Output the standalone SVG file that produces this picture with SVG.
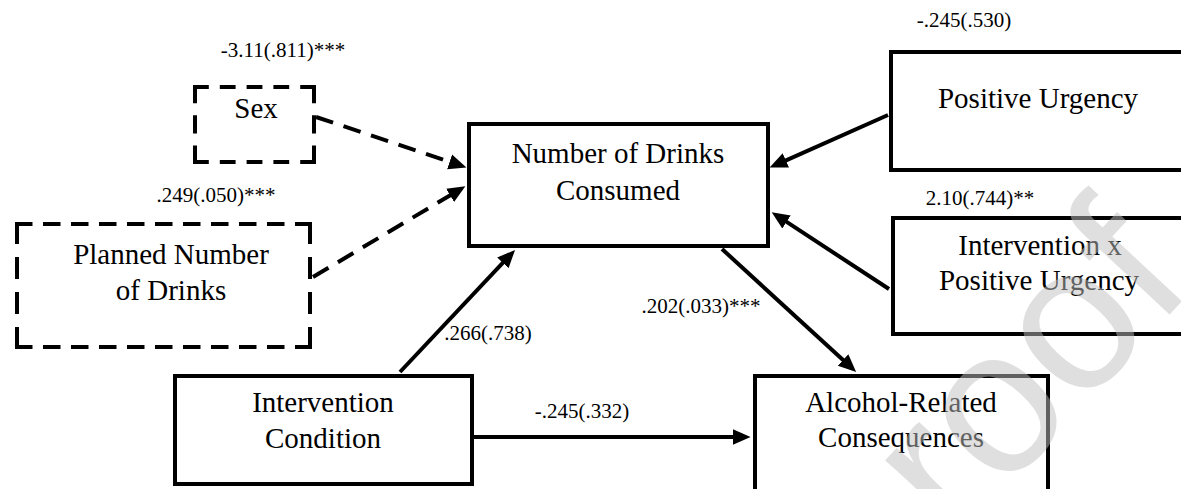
<svg xmlns="http://www.w3.org/2000/svg" width="1181" height="489" viewBox="0 0 1181 489">
<style>
  .box { fill: none; stroke: #000; stroke-width: 4; }
  .dside { fill: none; stroke: #000; stroke-width: 4; }
  .sexh { stroke-dasharray: 15.8 11; }
  .sexv { stroke-dasharray: 18.3 12; }
  .plh { stroke-dasharray: 17.5 10.5; }
  .plv { stroke-dasharray: 22 13; }
  .node { font-family: "Liberation Serif", "Times New Roman", "DejaVu Serif", serif; font-size: 29px; fill: #000; text-anchor: middle; }
  .lbl { font-family: "Liberation Serif", "Times New Roman", "DejaVu Serif", serif; font-size: 21px; fill: #000; text-anchor: middle; }
  .edge { fill: none; stroke: #000; stroke-width: 4; }
  .dedge { fill: none; stroke: #000; stroke-width: 4; stroke-dasharray: 18 11; }
  .wm { font-family: "Liberation Sans", Arial, sans-serif; font-size: 205px; fill: #c0c0c0; fill-opacity: 0.5; }
</style>
<defs>
  <marker id="arrow" markerUnits="userSpaceOnUse" markerWidth="20" markerHeight="18" refX="2" refY="0" viewBox="0 -8 18 16" orient="auto">
    <path d="M0,-7 L16,0 L0,7 z" fill="#000"/>
  </marker>
</defs>
<rect width="1181" height="489" fill="#fff"/>

<g id="connectors">
  <line class="dedge" x1="316" y1="117" x2="451.7" y2="162.5" marker-end="url(#arrow)"/>
  <line class="dedge" x1="313" y1="277" x2="452" y2="194.2" marker-end="url(#arrow)"/>
  <line class="edge" x1="400" y1="372" x2="504.4" y2="261.2" marker-end="url(#arrow)"/>
  <line class="edge" x1="722" y1="249" x2="844.7" y2="361.5" marker-end="url(#arrow)"/>
  <line class="edge" x1="888" y1="115" x2="783.8" y2="161.3" marker-end="url(#arrow)"/>
  <line class="edge" x1="889" y1="289" x2="784.7" y2="220.7" marker-end="url(#arrow)"/>
  <line class="edge" x1="474" y1="437" x2="735" y2="437" marker-end="url(#arrow)"/>
</g>

<g id="labels">
  <text class="lbl" x="283" y="57">-3.11(.811)***</text>
  <text class="lbl" x="216" y="202">.249(.050)***</text>
  <text class="lbl" x="488" y="340">.266(.738)</text>
  <text class="lbl" x="701" y="313">.202(.033)***</text>
  <text class="lbl" x="582" y="418">-.245(.332)</text>
  <text class="lbl" x="964" y="27">-.245(.530)</text>
  <text class="lbl" x="980" y="205">2.10(.744)**</text>
</g>

<g id="sex">
  <path class="dside sexh" d="M193,87 H316 M193,162 H316"/>
  <path class="dside sexv" d="M195,85 V164 M314,85 V164"/>
  <text class="node" x="256" y="118">Sex</text>
</g>
<g id="planned">
  <path class="dside plh" d="M15,224 H312 M15,347 H312"/>
  <path class="dside plv" d="M17,222 V349 M310,222 V349"/>
  <text class="node" x="171" y="264">Planned Number</text>
  <text class="node" x="171" y="300">of Drinks</text>
</g>
<g id="intervention">
  <rect class="box" x="175" y="376" width="297" height="108"/>
  <text class="node" x="323" y="412">Intervention</text>
  <text class="node" x="323" y="448">Condition</text>
</g>
<g id="drinks">
  <rect class="box" x="469" y="124" width="299" height="122"/>
  <text class="node" x="618" y="163">Number of Drinks</text>
  <text class="node" x="618" y="200">Consumed</text>
</g>
<g id="consequences">
  <rect class="box" x="755" y="376" width="293" height="130"/>
  <text class="node" x="901" y="412">Alcohol-Related</text>
  <text class="node" x="901" y="447">Consequences</text>
</g>
<g id="urgency">
  <rect class="box" x="891" y="52" width="300" height="118"/>
  <text class="node" x="1038" y="108">Positive Urgency</text>
</g>
<g id="interaction">
  <rect class="box" x="893" y="218" width="300" height="116"/>
  <text class="node" x="1040" y="255">Intervention x</text>
  <text class="node" x="1039" y="290">Positive Urgency</text>
</g>

<g id="watermark">
  <text class="wm" x="1196" y="286" text-anchor="end" transform="rotate(-47 1196 286)">Journal Pre-proof</text>
</g>
</svg>
